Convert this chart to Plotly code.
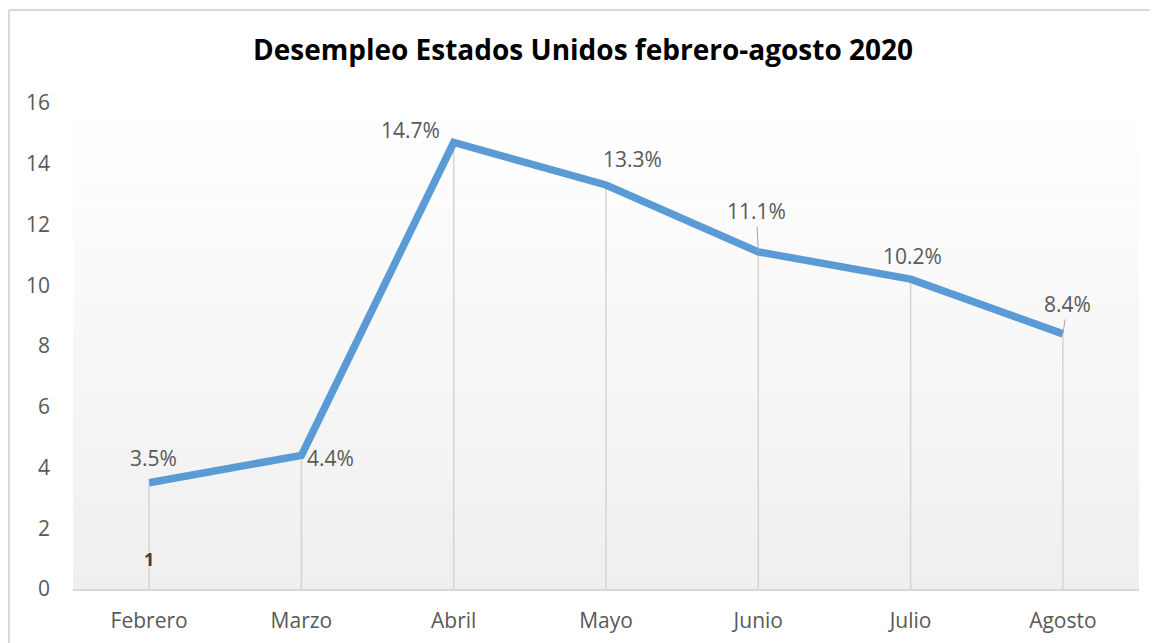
import plotly.graph_objects as go

months = ["Febrero", "Marzo", "Abril", "Mayo", "Junio", "Julio", "Agosto"]
rates = [3.5, 4.4, 14.7, 13.3, 11.1, 10.2, 8.4]
labels = ["3.5%", "4.4%", "14.7%", "13.3%", "11.1%", "10.2%", "8.4%"]
y_ticks = [0, 2, 4, 6, 8, 10, 12, 14, 16]
title_text = "Desempleo Estados Unidos febrero-agosto 2020"

FONT = "Open Sans"
GRAY = "#595959"
W, H = 1150, 635  # page body adds an 8px margin

fig = go.Figure()

# drop lines
dx, dy = [], []
for m, v in zip(months, rates):
    dx += [m, m, None]
    dy += [0, v, None]
fig.add_trace(go.Scatter(x=dx, y=dy, mode="lines",
                         line=dict(color="#d4d4d4", width=1.5),
                         hoverinfo="skip", showlegend=False))

fig.add_trace(go.Scatter(x=months, y=rates, mode="lines",
                         line=dict(color="#5b9bd5", width=7.5),
                         showlegend=False))

# label offsets (px) relative to each point: (xshift, yshift, leader)
offsets = [(4, 25, False), (29, -3, False), (-43, 12, False), (26, 26, False),
           (-2, 41, True), (2, 23, False), (5, 30, True)]
for m, v, t, (xs, ys, lead) in zip(months, rates, labels, offsets):
    if lead:
        fig.add_annotation(x=m, y=v, text=t, showarrow=True, arrowhead=0,
                           arrowwidth=1, arrowcolor="#a6a6a6",
                           ax=xs, ay=-ys, standoff=0,
                           font=dict(family=FONT, size=21, color=GRAY))
    else:
        fig.add_annotation(x=m, y=v, text=t, showarrow=False,
                           xshift=xs, yshift=ys,
                           font=dict(family=FONT, size=21, color=GRAY))

fig.add_annotation(x=months[0], y=1, text="<b>1</b>", showarrow=False,
                   font=dict(family=FONT, size=18, color="#404040"))

# gradient plot background
shapes = []
n = 60
for i in range(n):
    f = i / (n - 1)
    c = int(round(255 - (255 - 239) * f))
    shapes.append(dict(type="rect", xref="paper", yref="paper",
                       x0=0, x1=1, y0=1 - (i + 1) / n, y1=1 - i / n,
                       fillcolor=f"rgb({c},{c},{c})", line=dict(width=0),
                       layer="below"))
# outer chart border (top and left)
shapes.append(dict(type="line", xref="paper", yref="paper",
                   x0=-0.0600, x1=1.03, y0=1.1914, y1=1.1914,
                   line=dict(color="#d9d9d9", width=2)))
shapes.append(dict(type="line", xref="paper", yref="paper",
                   x0=-0.0600, x1=-0.0600, y0=1.1914, y1=-0.2,
                   line=dict(color="#d9d9d9", width=2)))

fig.update_layout(
    width=W, height=H,
    margin=dict(l=65, r=19, t=95, b=54),
    paper_bgcolor="white", plot_bgcolor="white",
    shapes=shapes,
    title=dict(text=f"<b>{title_text}</b>", x=0.5, xanchor="center",
               y=(H - 42) / H, yanchor="middle",
               font=dict(family=FONT, size=28, color="#000000")),
    xaxis=dict(type="category", range=[-0.5, 6.5], showgrid=False,
               showline=True, linecolor="#d9d9d9", linewidth=1.5,
               zeroline=False, ticks="", ticklabelstandoff=12,
               automargin=False,
               tickfont=dict(family=FONT, size=21, color=GRAY)),
    yaxis=dict(range=[0, 16], tickvals=y_ticks, showgrid=False,
               showline=False, zeroline=False, ticks="",
               ticklabelstandoff=22, automargin=False,
               tickfont=dict(family=FONT, size=21, color=GRAY)),
)
fig.update_layout(xaxis_layer="above traces")

fig.write_html("out.html")
